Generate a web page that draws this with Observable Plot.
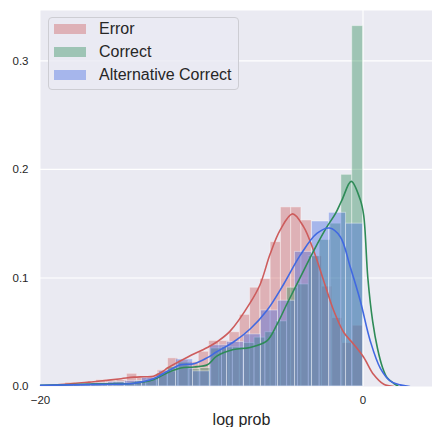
<!DOCTYPE html>
<html><head><meta charset="utf-8">
<script src="https://cdn.jsdelivr.net/npm/d3@7"></script>
<script src="https://cdn.jsdelivr.net/npm/@observablehq/plot@0.6"></script>
<style>
html,body{margin:0;padding:0;background:#fff;overflow:hidden;}
#wrap{position:relative;width:432px;height:427px;overflow:hidden;font-family:"Liberation Sans",Arial,sans-serif;}
#chart svg{max-width:none !important;display:block;}
.lg-box{position:absolute;left:47.5px;top:17px;width:191px;height:73px;border:1px solid #cdcdd3;border-radius:4px;background:rgba(234,234,242,0.8);box-sizing:border-box;}
.lg-patch{position:absolute;left:54px;width:32px;height:10px;}
.lg-text{position:absolute;left:99px;font-size:16px;line-height:18px;color:#262626;white-space:nowrap;}
</style>
</head><body>
<div id="wrap"><div id="chart"></div><div id="legend"></div></div>
<script>
// ---- data ----
const seriesNames = ["Error", "Correct", "Alternative Correct"];
const seriesColors = ["indianred", "seagreen", "royalblue"];

// histogram bins: first left edge, bin width, heights (density) left to right
const errorBinStart = -18.46, errorBinWidth = 0.6366;
const errorHeights = [0.0034,0.002,0.003,0.006,0.005,0.006,0.0117,0.008,0.009,0.015,0.026,0.024,0.0225,0.032,0.042,0.042,0.050,0.066,0.091,0.099,0.133,0.165,0.165,0.153,0.12,0.092,0.063,0.040,0.056];

const correctBinStart = -19.51, correctBinWidth = 0.6729;
const correctHeights = [0.001,0.001,0.002,0.002,0.003,0.003,0.004,0.003,0.005,0.006,0.012,0.018,0.022,0.016,0.017,0.035,0.036,0.036,0.040,0.045,0.050,0.060,0.091,0.094,0.12,0.135,0.15,0.195,0.332];

const altBinStart = -20.03, altBinWidth = 1.0543;
const altHeights = [0.001,0.001,0.002,0.003,0.004,0.005,0.008,0.014,0.025,0.014,0.038,0.041,0.048,0.070,0.079,0.124,0.152,0.160,0.150];

// KDE curves
const errorKdeX = [-20,-18.5,-17,-16.3,-15,-14.2,-13.6,-13.0,-12.4,-12.13,-10.89,-9.65,-9.07,-8.24,-7.0,-6.38,-5.76,-5.14,-4.37,-3.68,-3.06,-2.44,-1.82,-1.2,-0.58,0.04,0.66,1.29,1.9];
const errorKdeY = [0.0005,0.002,0.004,0.005,0.0072,0.0086,0.009,0.0095,0.014,0.017,0.027,0.036,0.041,0.051,0.077,0.094,0.122,0.144,0.159,0.147,0.125,0.0975,0.070,0.050,0.039,0.027,0.011,0.002,0.0];

const correctKdeX = [-20,-16.3,-14.2,-12.96,-12.13,-11.3,-10.48,-9.65,-9.07,-8.03,-7.0,-5.96,-5.34,-4.72,-3.89,-3.06,-2.24,-1.72,-1.3,-0.73,-0.17,0.04,0.3,0.6,0.9,1.2,1.5,1.9,2.2];
const correctKdeY = [0.001,0.0025,0.003,0.0065,0.0127,0.017,0.018,0.020,0.028,0.034,0.036,0.042,0.057,0.076,0.1006,0.125,0.147,0.159,0.172,0.189,0.172,0.158,0.10,0.06,0.035,0.018,0.008,0.003,0.0];

const altKdeX = [-20,-16.3,-14.2,-12.96,-12.13,-11.3,-10.48,-9.65,-9.07,-8.03,-7.0,-5.96,-4.93,-3.89,-2.86,-2.07,-1.41,-0.79,-0.17,0.45,1.07,1.7,2.3,2.9];
const altKdeY = [0.001,0.002,0.003,0.0074,0.014,0.020,0.021,0.0266,0.032,0.041,0.053,0.070,0.094,0.121,0.141,0.146,0.138,0.110,0.079,0.042,0.017,0.005,0.0015,0.0];

const xTicks = [-20, 0];
const yTicks = [0.0, 0.1, 0.2, 0.3];
const xLabel = "log prob";

// ---- build tables ----
function binTable(start, width, heights, name) {
  return heights.map((h, i) => ({x1: start + i * width, x2: start + (i + 1) * width, h, name}));
}
function curveTable(xs, ys, name) { return xs.map((x, i) => ({x, y: ys[i], name})); }

const hists = [
  binTable(errorBinStart, errorBinWidth, errorHeights, seriesNames[0]),
  binTable(correctBinStart, correctBinWidth, correctHeights, seriesNames[1]),
  binTable(altBinStart, altBinWidth, altHeights, seriesNames[2])
];
const kdes = [
  curveTable(errorKdeX, errorKdeY, seriesNames[0]),
  curveTable(correctKdeX, correctKdeY, seriesNames[1]),
  curveTable(altKdeX, altKdeY, seriesNames[2])
];

const marks = [
  Plot.frame({fill: "#EAEAF2", stroke: null}),
  Plot.gridY({ticks: [0.1, 0.2, 0.3], stroke: "white", strokeOpacity: 1, strokeWidth: 1.1}),
  Plot.gridX({ticks: [0], stroke: "white", strokeOpacity: 1, strokeWidth: 1.1})
];
hists.forEach((t, i) => {
  marks.push(Plot.rect(t, {x1: "x1", x2: "x2", y1: 0, y2: "h", fill: seriesColors[i], fillOpacity: 0.4, stroke: "white", strokeOpacity: 0.4, strokeWidth: 1}));
});
kdes.forEach((t, i) => {
  marks.push(Plot.line(t, {x: "x", y: "y", stroke: seriesColors[i], strokeWidth: 1.6, curve: "catmull-rom", clip: true}));
});
marks.push(
  Plot.axisY({ticks: yTicks, tickFormat: d3.format(".1f"), tickSize: 0, tickPadding: 12, fontSize: 11.5, label: null}),
  Plot.axisX({ticks: xTicks, tickSize: 0, tickPadding: 9, fontSize: 11.5, label: null}),
  Plot.text([xLabel], {frameAnchor: "bottom", dy: 33, lineAnchor: "middle", fontSize: 16, fill: "#262626"})
);

const chart = Plot.plot({
  width: 442, height: 427,
  marginTop: 10, marginBottom: 41, marginLeft: 40, marginRight: 0,
  style: {fontFamily: "'Liberation Sans', Arial, sans-serif", color: "#262626", background: "white", overflow: "visible"},
  x: {domain: [-20, 4.93]},
  y: {domain: [0, 0.3464]},
  marks
});
document.getElementById("chart").appendChild(chart);

// ---- legend ----
const lg = document.getElementById("legend");
const box = document.createElement("div"); box.className = "lg-box"; lg.appendChild(box);
const rowCenters = [29.3, 52, 74.7];
seriesNames.forEach((n, i) => {
  const p = document.createElement("div"); p.className = "lg-patch";
  p.style.top = (rowCenters[i] - 5) + "px"; p.style.background = seriesColors[i]; p.style.opacity = 0.4;
  lg.appendChild(p);
  const t = document.createElement("div"); t.className = "lg-text";
  t.style.top = (rowCenters[i] - 9) + "px"; t.textContent = n;
  lg.appendChild(t);
});
</script>
</body></html>
